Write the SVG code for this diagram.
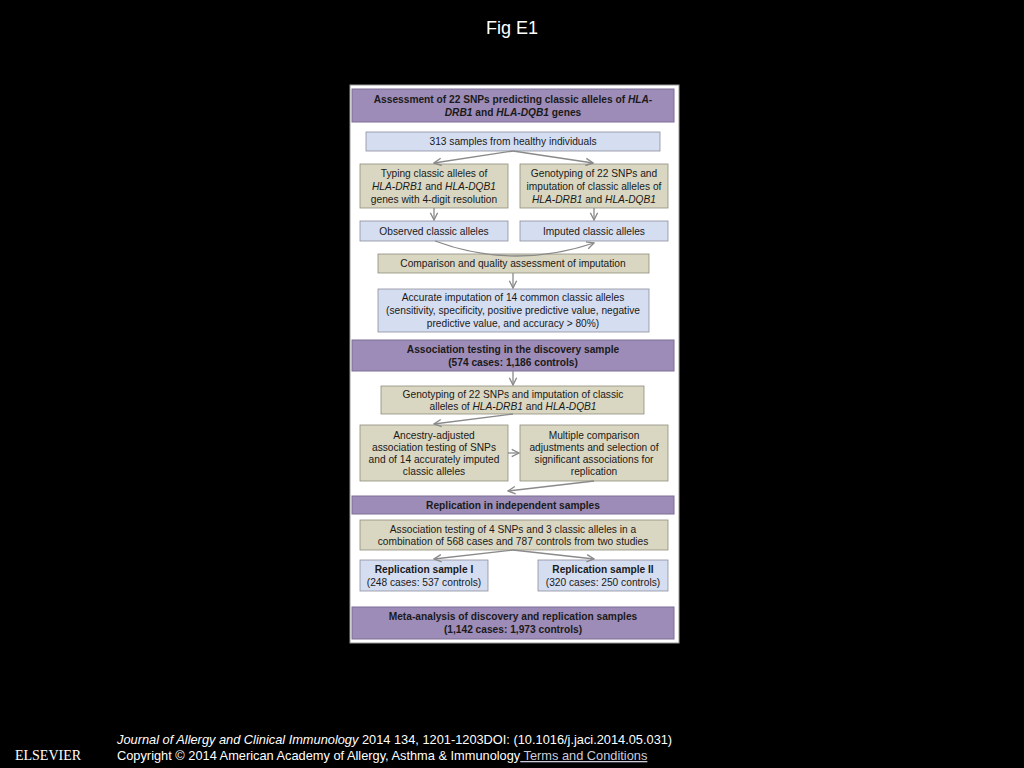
<svg xmlns="http://www.w3.org/2000/svg" width="1024" height="768" viewBox="0 0 1024 768">
<style>
text{font-family:"Liberation Sans",Arial,sans-serif;font-size:10.2px;fill:#1a1a1a;text-anchor:middle}
.h{font-weight:bold}
.hd{fill:#9d8cb7;stroke:#7d6e97;stroke-width:1}
.bl{fill:#d5ddf0;stroke:#8a8f9e;stroke-width:0.8}
.tn{fill:#d9d6c1;stroke:#8e8c7c;stroke-width:0.8}
.c path{fill:none;stroke:#8a8a8a;stroke-width:1.3;marker-end:url(#a)}
.w{fill:#fff;font-size:18px}
.f{fill:#fff;font-size:12.8px;text-anchor:start}
</style>
<defs><marker id="a" viewBox="0 0 10 10" refX="9" refY="5" markerWidth="7" markerHeight="7" orient="auto"><path d="M1,1 L9,5 L1,9" fill="none" stroke="#8a8a8a" stroke-width="1.5"/></marker></defs>
<rect width="1024" height="768" fill="#000"/>
<text x="512" y="34" class="w">Fig E1</text>
<rect x="350" y="85" width="329" height="558" fill="#fff" stroke="#999"/>
<g id="h1"><rect class="hd" x="352" y="89" width="322" height="33"/><text x="513" y="103" class="h">Assessment of 22 SNPs predicting classic alleles of <tspan font-style="italic">HLA-</tspan></text><text x="513" y="116" class="h"><tspan font-style="italic">DRB1</tspan> and <tspan font-style="italic">HLA-DQB1</tspan> genes</text></g>
<g id="n1"><rect class="bl" x="366" y="132" width="294" height="19"/><text x="513" y="145">313 samples from healthy individuals</text></g>
<g id="n2"><rect class="tn" x="360" y="164" width="148" height="44"/><text x="434" y="177">Typing  classic alleles of</text><text x="434" y="190" font-style="italic">HLA-DRB1 <tspan font-style="normal">and</tspan> HLA-DQB1</text><text x="434" y="203">genes with 4-digit resolution</text></g>
<g id="n3"><rect class="tn" x="520" y="164" width="148" height="44"/><text x="594" y="177">Genotyping of 22 SNPs and</text><text x="594" y="190">imputation of classic alleles of</text><text x="594" y="203" font-style="italic">HLA-DRB1 <tspan font-style="normal">and</tspan> HLA-DQB1</text></g>
<g id="n4"><rect class="bl" x="360" y="221" width="148" height="20"/><text x="434" y="235">Observed classic alleles</text></g>
<g id="n5"><rect class="bl" x="520" y="221" width="148" height="20"/><text x="594" y="235">Imputed classic alleles</text></g>
<g id="n6"><rect class="tn" x="378" y="254" width="271" height="19"/><text x="513" y="267">Comparison and quality assessment of imputation</text></g>
<g id="n7"><rect class="bl" x="378" y="289" width="271" height="43"/><text x="513" y="301">Accurate imputation of 14 common classic alleles</text><text x="513" y="314">(sensitivity, specificity, positive predictive value, negative</text><text x="513" y="327">predictive value, and accuracy &gt; 80%)</text></g>
<g id="h2"><rect class="hd" x="352" y="340" width="322" height="31"/><text x="513" y="353" class="h">Association testing in the discovery sample</text><text x="513" y="366" class="h">(574 cases: 1,186 controls)</text></g>
<g id="n8"><rect class="tn" x="381" y="386" width="263" height="28"/><text x="513" y="398">Genotyping of 22 SNPs and imputation of classic</text><text x="513" y="410">alleles of <tspan font-style="italic">HLA-DRB1</tspan> and <tspan font-style="italic">HLA-DQB1</tspan></text></g>
<g id="n9"><rect class="tn" x="360" y="425" width="148" height="56"/><text x="434" y="439">Ancestry-adjusted</text><text x="434" y="451">association testing of SNPs</text><text x="434" y="463">and of 14 accurately imputed</text><text x="434" y="475">classic alleles</text></g>
<g id="n10"><rect class="tn" x="520" y="425" width="148" height="56"/><text x="594" y="439">Multiple comparison</text><text x="594" y="451">adjustments and selection of</text><text x="594" y="463">significant associations for</text><text x="594" y="475">replication</text></g>
<g id="h3"><rect class="hd" x="352" y="496" width="322" height="18"/><text x="513" y="509" class="h">Replication in independent samples</text></g>
<g id="n11"><rect class="tn" x="360" y="520" width="308" height="30"/><text x="513" y="533">Association testing of 4 SNPs and 3 classic alleles in a</text><text x="513" y="545">combination of 568 cases and 787 controls from two studies</text></g>
<g id="n12"><rect class="bl" x="360" y="560" width="128" height="31"/><text x="424" y="573" class="h">Replication sample I</text><text x="424" y="586">(248 cases: 537 controls)</text></g>
<g id="n13"><rect class="bl" x="538" y="560" width="130" height="31"/><text x="603" y="573" class="h">Replication sample II</text><text x="603" y="586">(320 cases: 250 controls)</text></g>
<g id="h4"><rect class="hd" x="352" y="607" width="322" height="32"/><text x="513" y="620" class="h">Meta-analysis of discovery and replication samples</text><text x="513" y="633" class="h">(1,142 cases: 1,973 controls)</text></g>
<g class="c">
<path d="M513,151 L434,163"/><path d="M513,151 L593,163"/>
<path d="M434,208 L434,220"/><path d="M594,208 L594,220"/>
<path d="M435,241 Q513,270 594,243"/>
<path d="M513,273 L513,288"/><path d="M513,371 L513,385"/>
<path d="M513,414 L434,424"/><path d="M508,453 L519,453"/>
<path d="M594,481 L508,491"/>
<path d="M513,550 L434,559"/><path d="M513,550 L594,559"/>
</g>
<text x="117" y="744" class="f"><tspan font-style="italic">Journal of Allergy and Clinical Immunology</tspan> 2014 134, 1201-1203DOI: (10.1016/j.jaci.2014.05.031)</text>
<text x="117" y="760" class="f">Copyright © 2014 American Academy of Allergy, Asthma &amp; Immunology<tspan text-decoration="underline" fill="#ccd"> Terms and Conditions</tspan></text>
<text x="48" y="760" style="font-family:'Liberation Serif',serif;font-size:14px;fill:#fff">ELSEVIER</text>
</svg>
